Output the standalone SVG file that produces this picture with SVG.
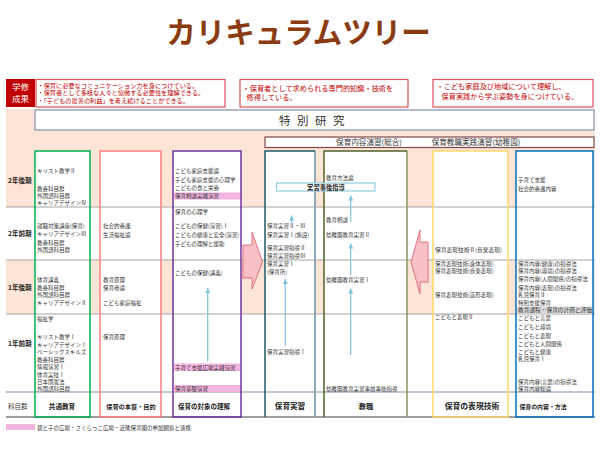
<svg xmlns="http://www.w3.org/2000/svg" width="600" height="450" viewBox="0 0 600 450">
<style>
text{font-family:"Noto Sans CJK JP","Noto Sans",sans-serif}
.t{font-size:5.5px;fill:#333}
.lbl{font-size:6.6px;font-weight:bold;fill:#222}
.hdr{font-weight:bold;fill:#222;text-anchor:middle}
.out{font-size:6.2px;fill:#C00000}
.out2{font-size:7.2px;fill:#C00000}
.col{fill:none;stroke-width:1.5}
.row{stroke:#A6A6A6;stroke-width:1}
.pk{fill:#F5B5E1}
.ar{stroke:#7FC4D8;stroke-width:1.2;fill:none;marker-end:url(#ah)}
.big{fill:#F7BFC6;stroke:#E0707E;stroke-width:1}
</style>
<defs>
<marker id="ah" markerUnits="userSpaceOnUse" markerWidth="6" markerHeight="6" refX="5" refY="3" orient="auto">
<path d="M0,0.5 L5,3 L0,5.5 z" fill="#7FC4D8"/>
</marker>
</defs>
<rect width="600" height="450" fill="#fff"/>
<text x="298.5" y="42.5" text-anchor="middle" font-size="29.5" font-weight="bold" fill="#8A3B12">カリキュラムツリー</text>

<g id="background">
<rect x="6" y="109" width="589" height="98" fill="#FCE4D6"/>
<rect x="6" y="260" width="589" height="54" fill="#FCE4D6"/>
<rect x="35" y="151" width="55" height="266" fill="#fff"/>
<rect x="100" y="151" width="61" height="266" fill="#fff"/>
<rect x="173" y="151" width="68" height="266" fill="#fff"/>
<rect x="265" y="151" width="50" height="266" fill="#fff"/>
<rect x="324" y="151" width="83" height="266" fill="#fff"/>
<rect x="433" y="151" width="75" height="266" fill="#fff"/>
<rect x="516" y="151" width="77" height="266" fill="#fff"/>
<line class="row" x1="6" y1="207" x2="595" y2="207"/>
<line class="row" x1="6" y1="260" x2="595" y2="260"/>
<line class="row" x1="6" y1="314" x2="595" y2="314"/>
<line x1="6" y1="392" x2="595" y2="392" stroke="#7F8FA6" stroke-width="1.2"/>
<line x1="6" y1="417" x2="595" y2="417" stroke="#7F7F7F" stroke-width="1.4"/>
</g>

<g id="outcomes">
<rect x="6" y="79" width="29" height="28" fill="#C00000"/>
<text x="20.5" y="90" text-anchor="middle" font-size="8.5" fill="#fff">学修</text>
<text x="20.5" y="101.5" text-anchor="middle" font-size="8.5" fill="#fff">成果</text>
<rect x="36" y="79.5" width="189" height="27.5" fill="#fff" stroke="#D9505A" stroke-width="1.2"/>
<text class="out" x="37.5" y="87.5">・保育に必要なコミュニケーション力を身につけている。</text>
<text class="out" x="37.5" y="95.2">・保育者として多様な人々と協働する必要性を理解できる。</text>
<text class="out" x="37.5" y="103">・「子どもの最善の利益」を考え続けることができる。</text>
<rect x="240" y="79.5" width="168" height="27.5" fill="#fff" stroke="#D9505A" stroke-width="1.2"/>
<text class="out2" x="242.5" y="91">・保育者として求められる専門的知識・技術を</text>
<text class="out2" x="246.5" y="99.5">修得している。</text>
<rect x="433" y="79.5" width="160" height="27.5" fill="#fff" stroke="#D9505A" stroke-width="1.2"/>
<text class="out2" x="436.5" y="89.3">・こども家庭及び地域について理解し、</text>
<text class="out2" x="441.5" y="99.3">保育実践から学ぶ姿勢を身につけている。</text>
</g>

<g id="tokubetsu">
<rect x="35" y="110" width="559" height="20" fill="#fff" stroke="#8497B0" stroke-width="1.2"/>
<text x="315" y="124.5" text-anchor="middle" font-size="11.5" fill="#333" letter-spacing="6.5">特別研究</text>
</g>
<g id="enshu">
<rect x="265" y="137" width="329" height="10.5" fill="#fff" stroke="#7F4A4A" stroke-width="1.2"/>
<text x="369" y="145.2" text-anchor="middle" font-size="7.6" fill="#333">保育内容演習(総合)</text>
<text x="476" y="145.2" text-anchor="middle" font-size="7.6" fill="#333">保育教職実践演習(幼稚園)</text>
</g>

<g id="rowlabels">
<text class="lbl" x="8" y="182.5">2年後期</text>
<text class="lbl" x="8" y="236">2年前期</text>
<text class="lbl" x="8" y="289.5">1年後期</text>
<text class="lbl" x="8" y="345.5">1年前期</text>
<text x="8" y="408.5" font-size="6.5" fill="#333">科目群</text>
</g>

<g id="kyotsu">
<rect class="col" x="35" y="151" width="55" height="266" stroke="#00B050"/>
<text class="t" x="37" y="173">キリスト教学Ⅱ</text>
<text class="t" x="37" y="190.5">教養科目群</text>
<text class="t" x="37" y="198">外国語科目群</text>
<text class="t" x="37" y="205">キャリアデザインⅣ</text>
<text class="t" x="37" y="228">就職対策講座(保育)</text>
<text class="t" x="37" y="236.3" font-size="6.2">キャリアデザインⅢ</text>
<text class="t" x="37" y="244.5">教養科目群</text>
<text class="t" x="37" y="251.5">外国語科目群</text>
<text class="t" x="37" y="282">体育講義</text>
<text class="t" x="37" y="289.5">教養科目群</text>
<text class="t" x="37" y="297">外国語科目群</text>
<text class="t" x="37" y="304.5">キャリアデザインⅡ</text>
<text class="t" x="37" y="320.5">福祉学</text>
<text class="t" x="37" y="339">キリスト教学Ⅰ</text>
<text class="t" x="37" y="346.5">キャリアデザインⅠ</text>
<text class="t" x="37" y="354">ベーシックスキルズ</text>
<text class="t" x="37" y="361.5">教養科目群</text>
<text class="t" x="37" y="369">情報演習Ⅰ</text>
<text class="t" x="37" y="376.5">体育実技Ⅰ</text>
<text class="t" x="37" y="384">日本国憲法</text>
<text class="t" x="37" y="391.2">外国語科目群</text>
<text class="hdr" x="62" y="408.5" font-size="6.6">共通教育</text>
</g>

<g id="honshitsu">
<rect class="col" x="100" y="151" width="61" height="266" stroke="#FF7C80"/>
<text class="t" x="103" y="228">社会的養護</text>
<text class="t" x="103" y="236.5">生活福祉論</text>
<text class="t" x="103" y="282">教育原理</text>
<text class="t" x="103" y="289.5">保育者論</text>
<text class="t" x="103" y="304.5">こども家庭福祉</text>
<text class="t" x="103" y="339">保育原理</text>
<text class="hdr" x="131" y="408.5" font-size="6.2">保育の本質・目的</text>
</g>

<g id="taisho">
<rect class="pk" x="174" y="192.5" width="66.5" height="7"/>
<rect class="pk" x="174" y="363.5" width="66.5" height="7.5"/>
<rect class="pk" x="174" y="385" width="66.5" height="7"/>
<rect class="col" x="173" y="151" width="68" height="266" stroke="#7030A0"/>
<text class="t" x="175" y="173">こども家庭支援論</text>
<text class="t" x="175" y="181.5">子ども家庭支援の心理学</text>
<text class="t" x="175" y="190.3">こどもの食と栄養</text>
<text class="t" x="175" y="198">保育相談実践演習</text>
<text class="t" x="175" y="214">保育の心理学</text>
<text class="t" x="175" y="228">こどもの保健(演習)Ⅰ</text>
<text class="t" x="175" y="236.5">こどもの健康と安全(演習)</text>
<text class="t" x="175" y="245.5">子どもの理解と援助</text>
<text class="t" x="175" y="274.5">こどもの保健(講義)</text>
<text class="t" x="175" y="369.5">子育て支援広場実践演習</text>
<text class="t" x="175" y="390.5">保育基礎演習</text>
<text class="hdr" x="204" y="408.5" font-size="6.5">保育の対象の理解</text>
</g>

<g id="jisshu">
<path d="M315,151 V417" stroke="#8EAAB8" stroke-width="2" fill="none"/>
<path d="M315,151 H265 V417" stroke="#215967" stroke-width="1.5" fill="none"/>
<text class="t" x="267" y="228">保育実習Ⅱ・Ⅲ</text>
<text class="t" x="267" y="236.5">保育実習Ⅰ(施設)</text>
<text class="t" x="267" y="250">保育実習指導Ⅱ</text>
<text class="t" x="267" y="257.5">保育実習指導Ⅲ</text>
<text class="t" x="267" y="265.5">保育実習Ⅰ</text>
<text class="t" x="267" y="273.5">(保育所)</text>
<text class="t" x="267" y="354">保育実習指導Ⅰ</text>
<text class="hdr" x="290" y="409" font-size="7.6">保育実習</text>
</g>

<g id="kyoshoku">
<path d="M407,151 V417" stroke="#8A9460" stroke-width="1.5" fill="none"/>
<path d="M407,151 H324 V417" stroke="#4F6228" stroke-width="1.5" fill="none"/>
<text class="t" x="326" y="180.2">教育方法論</text>
<text class="t" x="326" y="221.5">教育相談</text>
<text class="t" x="326" y="236.5">幼稚園教育実習Ⅱ</text>
<text class="t" x="326" y="282">幼稚園教育実習Ⅰ</text>
<text class="t" x="326" y="390.5">幼稚園教育実習事前事後指導</text>
<text class="hdr" x="366" y="409" font-size="7.2">教職</text>
</g>

<g id="jigoshido">
<rect x="276.5" y="183" width="98.5" height="8" fill="#fff" stroke="#92CDDC" stroke-width="1.2"/>
<text x="326" y="189.8" text-anchor="middle" font-size="6.3" font-weight="bold" fill="#222">実習事後指導</text>
</g>

<g id="hyogen">
<rect class="col" x="433" y="151" width="75" height="266" stroke="#FFD966"/>
<text class="t" x="435" y="251.5" textLength="67" lengthAdjust="spacingAndGlyphs">保育表現技術Ⅱ(音楽表現)</text>
<text class="t" x="435" y="265.5">保育表現技術(身体表現)</text>
<text class="t" x="435" y="273">保育表現技術(音楽表現)</text>
<text class="t" x="435" y="297">保育表現技術(造形表現)</text>
<text class="t" x="435" y="319">こどもと表現Ⅱ</text>
<text class="hdr" x="472" y="409" font-size="7.8">保育の表現技術</text>
</g>

<g id="naiyo">
<rect x="517" y="306.5" width="76" height="7" fill="#D9D9D9"/>
<rect class="col" x="516" y="151" width="77" height="266" stroke="#0070C0"/>
<text class="t" x="518" y="181.5">子育て支援</text>
<text class="t" x="518" y="190.5">社会的養護内容</text>
<text class="t" x="518" y="265.5">保育内容(健康)の指導法</text>
<text class="t" x="518" y="273">保育内容(環境)の指導法</text>
<text class="t" x="518" y="281">保育内容(人間関係)の指導法</text>
<text class="t" x="518" y="289.5">保育内容(表現)の指導法</text>
<text class="t" x="518" y="297">乳児保育Ⅱ</text>
<text class="t" x="518" y="304.5">特別支援保育</text>
<text class="t" x="518" y="312" textLength="74" lengthAdjust="spacingAndGlyphs">教育課程・保育の計画と評価</text>
<text class="t" x="518" y="320">こどもと言葉</text>
<text class="t" x="518" y="329">こどもと環境</text>
<text class="t" x="518" y="338">こどもと表現</text>
<text class="t" x="518" y="345.5">こどもと人間関係</text>
<text class="t" x="518" y="354">こどもと健康</text>
<text class="t" x="518" y="361">乳児保育Ⅰ</text>
<text class="t" x="518" y="383.5">保育内容(言葉)の指導法</text>
<text class="t" x="518" y="391">保育内容総論</text>
<text class="hdr" x="543" y="408.5" font-size="5.9">保育の内容・方法</text>
</g>

<g id="connectors">
<line class="ar" x1="207.7" y1="361.5" x2="207.7" y2="288"/>
<line class="ar" x1="285.3" y1="346" x2="285.3" y2="279"/>
<line class="ar" x1="291.7" y1="223.5" x2="291.7" y2="215.5"/>
<line class="ar" x1="350.7" y1="222" x2="350.7" y2="195.5"/>
<line class="ar" x1="350.7" y1="275" x2="350.7" y2="243.5"/>
<line class="ar" x1="350.7" y1="355" x2="350.7" y2="288.5"/>
<polygon class="big" points="243,245 252,245 252,232 262.5,262 252,289 252,278 243,278"/>
<polygon class="big" points="428,242 420,242 420,230 411,262 420,294 420,282 428,282"/>
</g>

<g id="legend">
<rect class="pk" x="6" y="424" width="29" height="6"/>
<text class="t" x="37" y="429.8" font-size="5.8">親と子の広場・さくらっこ広場・近隣保育園の参加観察と連携</text>
</g>
</svg>
